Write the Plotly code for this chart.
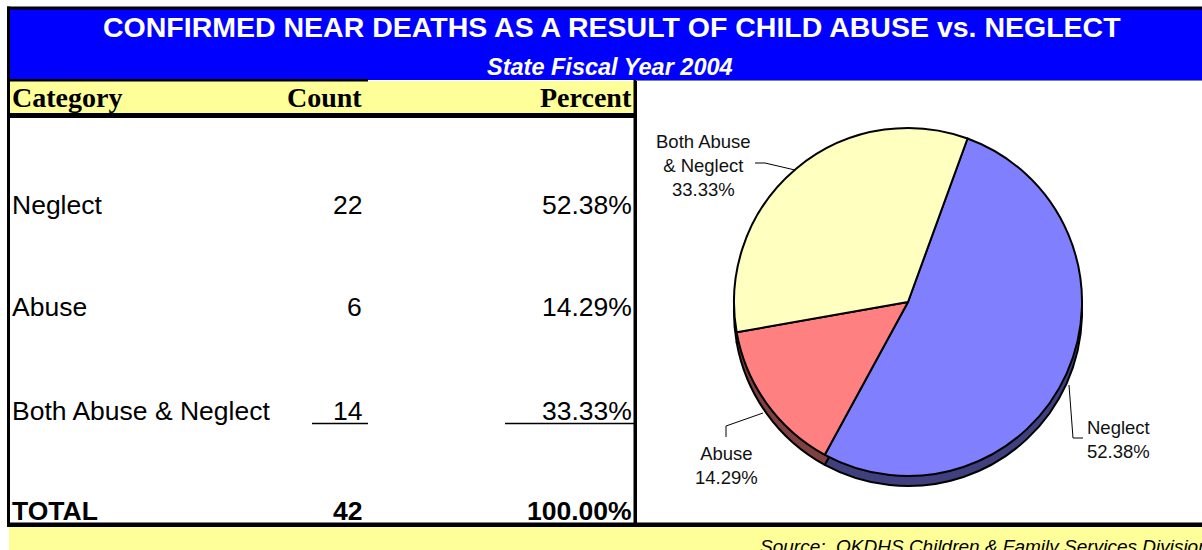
import plotly.graph_objects as go

# ---------------- data ----------------
categories = ["Neglect", "Abuse", "Both Abuse & Neglect"]
counts = [22, 6, 14]
pie_label_text = ["Neglect", "Abuse", "Both Abuse<br>& Neglect"]
slice_colors = ["#8080FF", "#FF8080", "#FFFFC0"]
rim_colors = ["#40407F", "#7F4040", "#7F7F60"]
title_text = "CONFIRMED NEAR DEATHS AS A RESULT OF CHILD ABUSE vs. NEGLECT"
subtitle_text = "State Fiscal Year 2004"
header_labels = ["Category", "Count", "Percent"]
total_label = "TOTAL"
source_text = "Source:  OKDHS Children & Family Services Division"

total = sum(counts)
percents = [f"{c / total * 100:.2f}%" for c in counts]
total_percent = f"{total / total * 100:.2f}%"

# ---------------- layout helpers ----------------
W, H = 1202, 550


def X(px):
    return px / W


def Y(py):
    return 1 - py / H


SANS = "Liberation Sans"
SERIF = "Liberation Serif"

fig = go.Figure()

# pie centre / radius (screen pixels)
cx, cy, r, depth = 908, 302, 174, 10

# rim (3-D edge imitation): same pie shifted down
fig.add_trace(go.Pie(
    labels=categories, values=counts, sort=False, direction="clockwise",
    rotation=20, textinfo="none", hoverinfo="skip", showlegend=False,
    marker=dict(colors=rim_colors, line=dict(color="black", width=2)),
    domain=dict(x=[X(cx - r), X(cx + r)], y=[Y(cy + depth + r), Y(cy + depth - r)]),
))
fig.add_trace(go.Pie(
    labels=categories, values=counts, sort=False, direction="clockwise",
    rotation=20, textinfo="none", showlegend=False,
    marker=dict(colors=slice_colors, line=dict(color="black", width=2)),
    domain=dict(x=[X(cx - r), X(cx + r)], y=[Y(cy + r), Y(cy - r)]),
))

shapes = []


def rect(x0, y0, x1, y1, color):
    shapes.append(dict(type="rect", xref="paper", yref="paper",
                       x0=X(x0), x1=X(x1), y0=Y(y1), y1=Y(y0),
                       fillcolor=color, line=dict(width=0), layer="below"))


def line(x0, y0, x1, y1, color="black", width=1):
    shapes.append(dict(type="line", xref="paper", yref="paper",
                       x0=X(x0), x1=X(x1), y0=Y(y0), y1=Y(y1),
                       line=dict(color=color, width=width)))


def path(points, color="black", width=1):
    d = "M " + " L ".join(f"{X(px)},{Y(py)}" for px, py in points)
    shapes.append(dict(type="path", xref="paper", yref="paper", path=d,
                       line=dict(color=color, width=width)))


# backgrounds
rect(9, 9, W + 2, 80, "#0000FF")          # blue title band
rect(9, 81, 634, 113, "#FFFF99")          # header row
rect(9, 527, W + 2, H + 2, "#FFFF99")     # source band

# borders
rect(7, 6.5, W + 2, 9.5, "black")         # top line
rect(7, 6.5, 10, 527, "black")            # left border
rect(7, 79, 368, 81.5, "black")           # under blue (left part)
line(636, 80.5, W + 2, 80.5, "#808080", 1)  # thin grey under blue (right part)
rect(7, 113, 637, 118, "black")           # under header
rect(633.5, 80, 637, 525, "black")        # table right border
rect(7, 522.5, W + 2, 527, "black")       # bottom line

# underlines for last data row
line(312, 423.5, 368, 423.5, "black", 1.5)
line(505, 423.5, 634, 423.5, "black", 1.5)

# pie leader lines
path([(1069, 385), (1073, 438), (1083, 438)])
path([(763, 413), (726, 426), (726, 437)])
path([(755, 163), (765, 163), (795, 170)])

annotations = []


def text(t, x, y, size, family=SANS, color="black", xanchor="left", weight="normal",
         style="normal", align="left"):
    annotations.append(dict(text=t, xref="paper", yref="paper", x=X(x), y=Y(y),
                            xanchor=xanchor, yanchor="middle", showarrow=False,
                            align=align, borderpad=0,
                            font=dict(family=family, size=size, color=color,
                                      weight=weight, style=style)))


# title
text(title_text, 612, 27, 28.5, color="white", xanchor="center", weight="bold")
text(subtitle_text, 610, 67, 23.5, color="white", xanchor="center", weight="bold", style="italic")

# header
text(header_labels[0], 11, 97, 28, family=SERIF, weight="bold")
text(header_labels[1], 363, 97, 28, family=SERIF, weight="bold", xanchor="right")
text(header_labels[2], 633, 97, 28, family=SERIF, weight="bold", xanchor="right")

# body rows
row_y = [205, 307, 411]
for cat, cnt, pct, yy in zip(categories, counts, percents, row_y):
    text(cat, 11, yy, 26.5)
    text(str(cnt), 363, yy, 26.5, xanchor="right")
    text(pct, 633, yy, 26.5, xanchor="right")

text(total_label, 11, 511, 26.5, weight="bold")
text(str(total), 363, 511, 26.5, xanchor="right", weight="bold")
text(total_percent, 633, 511, 26.5, xanchor="right", weight="bold")

# source
text(source_text, 759, 546, 19, style="italic")

# pie labels
pie_label_pos = [(1086, 439, "left", "left"), (726, 465, "center", "center"),
                 (703, 165, "center", "center")]
for lab, pct, (px, py, xa, al) in zip(pie_label_text, percents, pie_label_pos):
    text(f"{lab}<br>{pct}", px, py, 18.5, color="#111111", xanchor=xa, align=al)

fig.update_layout(
    width=W, height=H, autosize=False,
    margin=dict(l=0, r=0, t=0, b=0),
    paper_bgcolor="white", plot_bgcolor="white",
    shapes=shapes, annotations=annotations,
    showlegend=False,
)

fig.write_html("out.html",
               config={"displayModeBar": False},
               post_script="document.body.style.margin='0';"
                           "document.body.style.overflow='hidden';")
